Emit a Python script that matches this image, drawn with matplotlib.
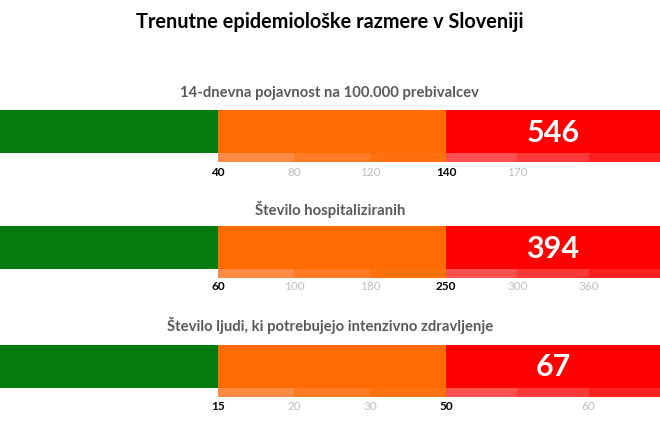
import matplotlib
matplotlib.use("Agg")
import matplotlib.pyplot as plt

# ---- data ----
title = "Trenutne epidemiološke razmere v Sloveniji"
indicators = [
    "14-dnevna pojavnost na 100.000 prebivalcev",
    "Število hospitaliziranih",
    "Število ljudi, ki potrebujejo intenzivno zdravljenje",
]
current_values = [546, 394, 67]
tick_labels = [
    ["40", "80", "120", "140", "170"],
    ["60", "100", "180", "250", "300", "360"],
    ["15", "20", "30", "50", "60"],
]
tick_slots = [
    [3, 4, 5, 6, 7],
    [3, 4, 5, 6, 7, 8],
    [3, 4, 5, 6, 8],
]
major_thresholds = [["40", "140"], ["60", "250"], ["15", "50"]]
zone_colors = ["#037B0F", "#FF6B00", "#FF0000"]
tier_colors = ["#FF8C42", "#FF7B24", "#FF700E", "#FF5050", "#FF3838", "#FF2020"]

# ---- layout (pixel units) ----
W, H = 660, 433
zone_edges = [0, 218, 446, 660]   # pixel edges of green / orange / red zones

def slot_x(s):
    """x position of sub-tier boundary s (0..9), three tiers per zone."""
    z = min(int(s // 3), 2)
    f = (s - 3 * z) / 3
    return zone_edges[z] + f * (zone_edges[z + 1] - zone_edges[z])

fig = plt.figure(figsize=(W / 100, H / 100), dpi=100)
ax = fig.add_axes([0, 0, 1, 1])
ax.set_xlim(0, W)
ax.set_ylim(H, 0)
ax.axis("off")

font = "Lato"
bar_top = [110, 226, 345]
bar_h = 43
strip_h = 9
sub_y = [93, 210, 326]
lab_y = [172, 287, 406]

ax.text(W / 2, 22, title, ha="center", va="center", fontsize=14.3,
        fontweight="bold", family=font, color="black")

zone_left = [slot_x(3 * z) for z in range(3)]
zone_w = [slot_x(3 * z + 3) - slot_x(3 * z) for z in range(3)]
tier_left = [slot_x(s) for s in range(3, 9)]
tier_w = [slot_x(s + 1) - slot_x(s) for s in range(3, 9)]

for i in range(3):
    ax.barh(bar_top[i], zone_w, left=zone_left, height=bar_h,
            align="edge", color=zone_colors, linewidth=0)
    ax.barh(bar_top[i] + bar_h, tier_w, left=tier_left, height=strip_h,
            align="edge", color=tier_colors, linewidth=0)
    ax.text(W / 2, sub_y[i], indicators[i], ha="center", va="center",
            fontsize=10.7, fontweight="bold", family=font, color="#595959")
    ax.text((zone_edges[2] + zone_edges[3]) / 2, bar_top[i] + bar_h / 2 + 1,
            str(current_values[i]), ha="center", va="center", fontsize=22,
            fontweight="bold", family=font, color="white")
    for lab, s in zip(tick_labels[i], tick_slots[i]):
        major = lab in major_thresholds[i]
        ax.text(slot_x(s), lab_y[i], lab, ha="center", va="center",
                fontsize=8.5, family=font,
                fontweight="bold" if major else "normal",
                color="black" if major else "#BFBFBF")

fig.savefig("out.png", dpi=100)
